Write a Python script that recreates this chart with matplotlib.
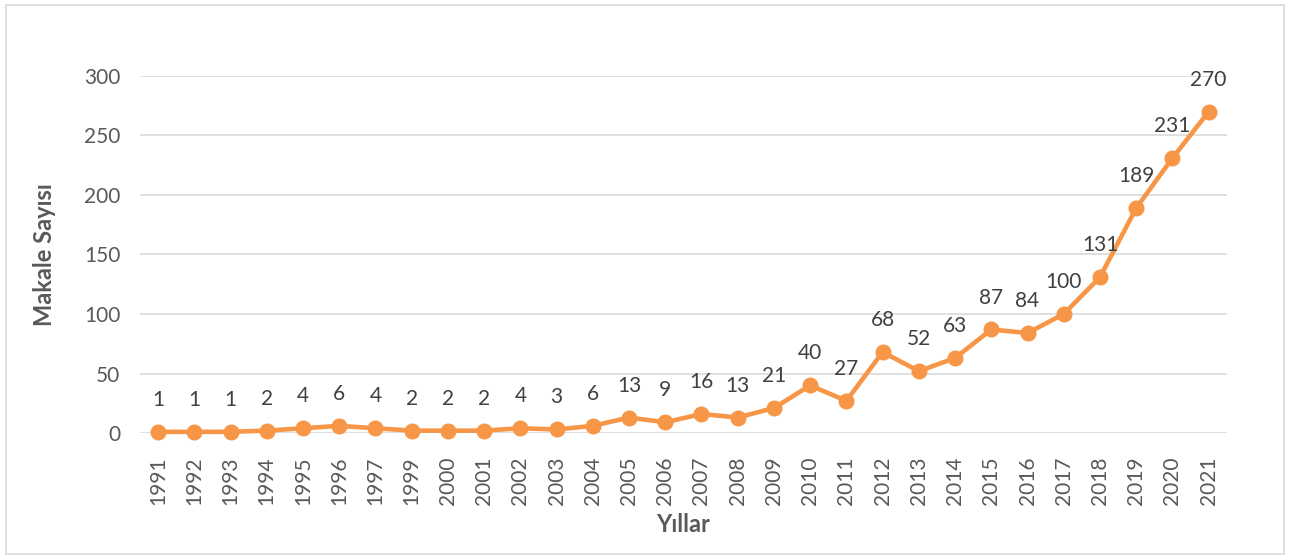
import matplotlib.pyplot as plt
from matplotlib.patches import Rectangle

plt.rcParams['font.family'] = ['Lato', 'DejaVu Sans']

years = ['1991', '1992', '1993', '1994', '1995', '1996', '1997', '1999', '2000',
         '2001', '2002', '2003', '2004', '2005', '2006', '2007', '2008', '2009',
         '2010', '2011', '2012', '2013', '2014', '2015', '2016', '2017', '2018',
         '2019', '2020', '2021']
counts = [1, 1, 1, 2, 4, 6, 4, 2, 2, 2, 4, 3, 6, 13, 9, 16, 13, 21, 40, 27,
          68, 52, 63, 87, 84, 100, 131, 189, 231, 270]
yticks = [0, 50, 100, 150, 200, 250, 300]

line_col = '#F79646'
txt_col = '#595959'

fig = plt.figure(figsize=(12.9, 5.57), dpi=100)
ax = fig.add_axes([0.1085, 0.2226, 0.8425, 0.641])

# chart border
fig.patches.append(Rectangle((0.005, 0.006), 0.99, 0.985, transform=fig.transFigure,
                             fill=False, edgecolor='#D9D9D9', linewidth=1.2))

x = list(range(len(years)))
ax.plot(x, counts, color=line_col, linewidth=3.3, marker='o', markersize=10.5,
        zorder=3, clip_on=False)

for xi, v in zip(x, counts):
    ax.annotate(str(v), (xi, v), xytext=(0, 23), textcoords='offset points',
                ha='center', va='center', fontsize=15, color='#404040')

ax.set_xlim(-0.5, len(years) - 0.5)
ax.set_ylim(0, 300)
ax.set_yticks(yticks)
ax.set_xticks(x)
ax.set_xticklabels(years, rotation=90)
ax.tick_params(axis='both', length=0, labelsize=15, colors=txt_col)
ax.tick_params(axis='x', pad=17)
ax.tick_params(axis='y', pad=14)
ax.grid(axis='y', color='#D9D9D9', linewidth=1.2)
ax.set_axisbelow(True)
for s in ax.spines.values():
    s.set_visible(False)

ax.set_xlabel('Yıllar', fontsize=17, fontweight='bold', color=txt_col, labelpad=6)
ax.set_ylabel('Makale Sayısı', fontsize=17, fontweight='bold', color=txt_col, labelpad=20)

fig.savefig('out.png', dpi=100)
